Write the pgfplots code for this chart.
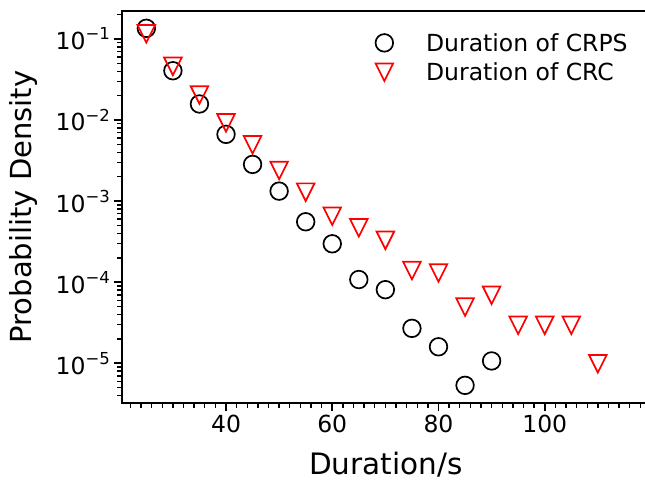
\documentclass[border=0pt]{standalone}
\usepackage{pgfplots}
\pgfplotsset{compat=1.18}
\usepackage{fontspec}
\setmainfont{DejaVu Sans}
\pgfdeclareplotmark{mplv}{%
  \pgfpathmoveto{\pgfqpoint{0pt}{-\pgfplotmarksize}}%
  \pgfpathlineto{\pgfqpoint{-\pgfplotmarksize}{\pgfplotmarksize}}%
  \pgfpathlineto{\pgfqpoint{\pgfplotmarksize}{\pgfplotmarksize}}%
  \pgfpathclose\pgfusepathqstroke}
\newcommand{\tl}[1]{10\raisebox{0.42em}{\fontsize{16.5}{16.5}\selectfont −#1}}
\pgfplotstableread{
x y
25 0.1355
30 0.0406
35 0.0158
40 0.00667
45 0.00284
50 0.00133
55 5.57e-4
60 2.98e-4
65 1.08e-4
70 8.1e-5
75 2.70e-5
80 1.60e-5
85 5.35e-6
90 1.07e-5
}\crps
\pgfplotstableread{
x y
25 0.116
30 0.0460
35 0.0204
40 0.00924
45 0.00496
50 0.00239
55 0.00129
60 6.52e-4
65 4.69e-4
70 3.29e-4
75 1.39e-4
80 1.30e-4
85 4.94e-5
90 6.90e-5
95 2.94e-5
100 2.94e-5
105 2.94e-5
110 9.86e-6
}\crc
\begin{document}
\begin{tikzpicture}
\begin{axis}[
  at={(122pt,77pt)}, anchor=south west,
  scale only axis, width=560pt, height=392pt,
  ymode=log,
  xmin=20.42, xmax=125.84, ymin=3.24e-6, ymax=0.2215,
  axis line style={line width=1.9pt},
  tick pos=left, tick align=outside,
  major tick length=8.5pt, minor tick length=4.6pt,
  every major tick/.append style={line width=1.9pt, black},
  every minor tick/.append style={line width=1.4pt, black},
  xtick={40,60,80,100},
  minor xtick={22,24,...,124},
  ytick={1e-5,1e-4,1e-3,1e-2,1e-1},
  yticklabels={\tl{5},\tl{4},\tl{3},\tl{2},\tl{1}},
  minor ytick={3e-6,4e-6,5e-6,6e-6,7e-6,8e-6,9e-6,
    2e-5,3e-5,4e-5,5e-5,6e-5,7e-5,8e-5,9e-5,
    2e-4,3e-4,4e-4,5e-4,6e-4,7e-4,8e-4,9e-4,
    2e-3,3e-3,4e-3,5e-3,6e-3,7e-3,8e-3,9e-3,
    2e-2,3e-2,4e-2,5e-2,6e-2,7e-2,8e-2,9e-2,2e-1},
  /pgf/number format/assume math mode=true,
  tick label style={font=\fontsize{23.5}{28}\selectfont},
  xlabel={Duration/s},
  ylabel={Probability Density},
  every axis x label/.style={at={(axis description cs:0.4714,-0.1811)}, anchor=base,
    font=\fontsize{29.5}{34}\selectfont},
  every axis y label/.style={at={(axis description cs:-0.1613,0.5)}, rotate=90, anchor=base,
    font=\fontsize{29}{34}\selectfont},
  legend style={draw=none, fill=none, at={(axis description cs:0.4524,0.9439)},
    anchor=north west, font=\fontsize{23.5}{28}\selectfont, inner sep=0pt,
    row sep=10pt, nodes={inner sep=0pt},
    /tikz/every odd column/.append style={column sep=33pt}},
  legend cell align=left,
]
\addplot[only marks, mark=o, mark size=8.8pt, line width=1.7pt, draw=black,
  legend image code/.code={\draw[only marks, mark=o, mark size=8.8pt, line width=1.7pt, draw=black] plot coordinates {(0pt,0pt)};}]
  table[x=x,y=y]{\crps};
\addlegendentry{Duration of CRPS}
\addplot[only marks, mark=mplv, mark size=8.8pt, line width=1.7pt, draw=red,
  legend image code/.code={\draw[only marks, mark=mplv, mark size=8.8pt, line width=1.7pt, draw=red] plot coordinates {(0pt,0pt)};}]
  table[x=x,y=y]{\crc};
\addlegendentry{Duration of CRC}
\end{axis}
\pgfresetboundingbox
\path[use as bounding box] (0pt,0pt) rectangle (645pt,480pt);
\end{tikzpicture}
\end{document}
